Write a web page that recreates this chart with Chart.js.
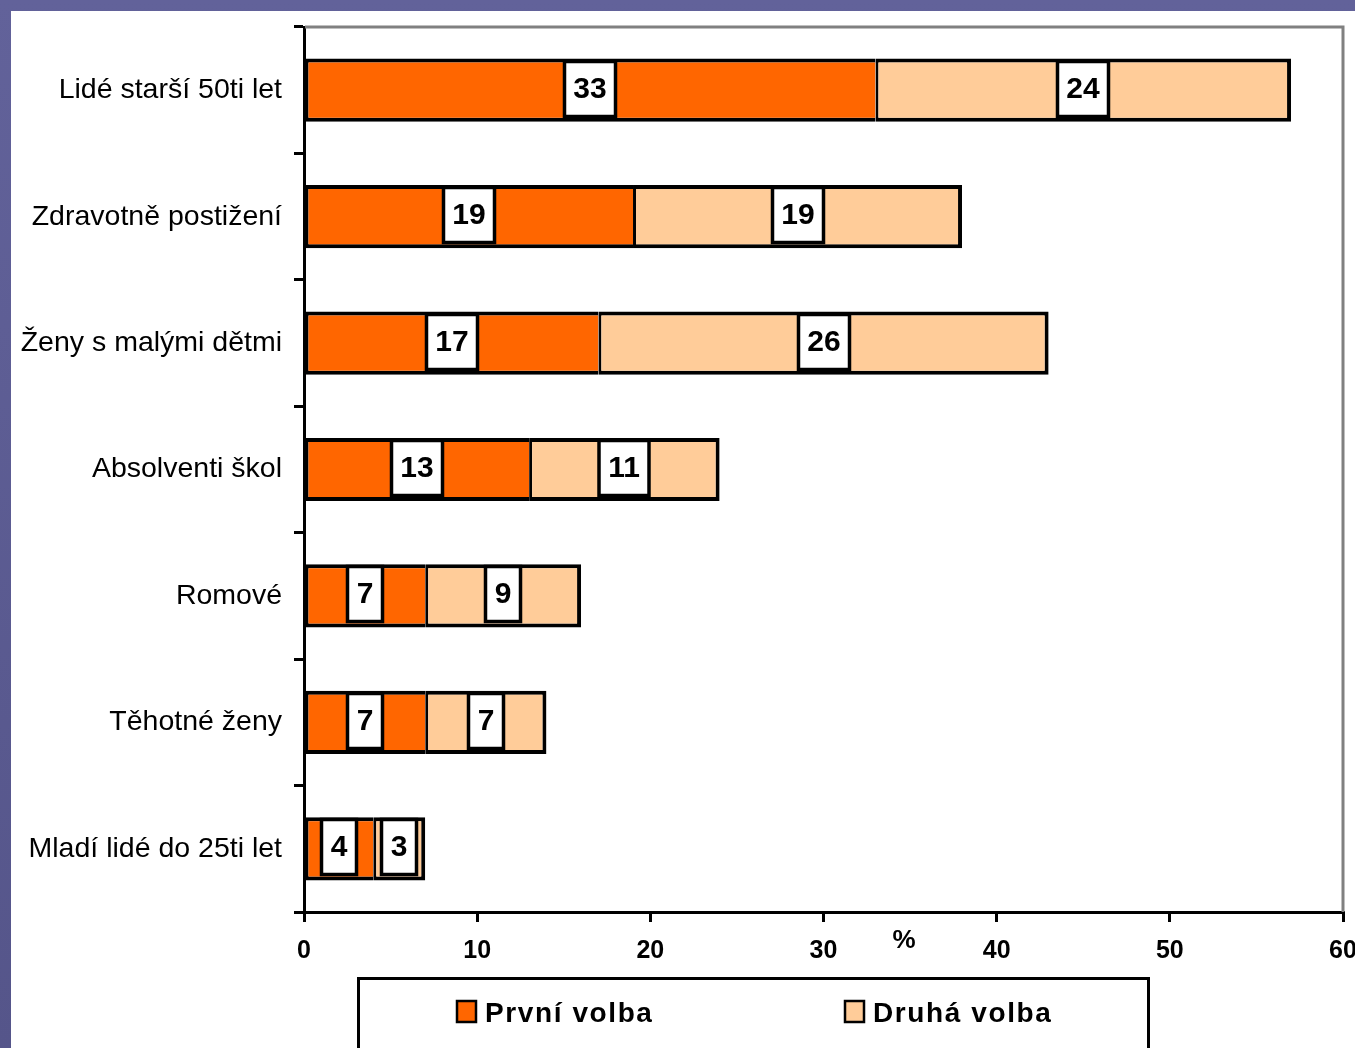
<!DOCTYPE html>
<html lang="cs">
<head>
<meta charset="utf-8">
<title>Cílové skupiny</title>
<script src="https://cdn.jsdelivr.net/npm/chart.js@4/dist/chart.umd.min.js"></script>
<style>
  html, body { margin: 0; padding: 0; background: #5c5c8e; }
  #wrap { position: absolute; left: 0; top: 0; width: 1355px; height: 1048px; }
</style>
</head>
<body>
<div id="wrap"><canvas id="c" width="1355" height="1048"></canvas></div>
<script>
// Target groups and the share (%) picking them as first / second choice
const categories = [
  'Lidé starší 50ti let',
  'Zdravotně postižení',
  'Ženy s malými dětmi',
  'Absolventi škol',
  'Romové',
  'Těhotné ženy',
  'Mladí lidé do 25ti let'
];
const firstChoice  = [33, 19, 17, 13, 7, 7, 4];
const secondChoice = [24, 19, 26, 11, 9, 7, 3];
const seriesNames  = ['První volba', 'Druhá volba'];
const xTicks       = [0, 10, 20, 30, 40, 50, 60];
const axisTitle    = '%';

const ORANGE = '#FF6600';
const PEACH  = '#FFCC99';
const LABEL_FONT = '"Liberation Sans", Arial, sans-serif';

// Slide background: purple frame with a white panel
const backdrop = {
  id: 'backdrop',
  beforeDraw(chart) {
    const { ctx, width, height } = chart;
    ctx.save();
    const g = ctx.createLinearGradient(0, 0, 0, height);
    g.addColorStop(0, '#62629a');
    g.addColorStop(1, '#55558a');
    ctx.fillStyle = g;
    ctx.fillRect(0, 0, width, height);
    ctx.fillStyle = '#ffffff';
    ctx.fillRect(11, 11, width - 11, height - 11);
    ctx.restore();
  }
};

// Gray frame on the top and right of the plot area, plus the axis title
const plotFrame = {
  id: 'plotFrame',
  afterDraw(chart) {
    const { ctx, chartArea: a } = chart;
    ctx.save();
    ctx.strokeStyle = '#808080';
    ctx.lineWidth = 3;
    ctx.beginPath();
    ctx.moveTo(a.left + 1, a.top);
    ctx.lineTo(a.right, a.top);
    ctx.lineTo(a.right, a.bottom);
    ctx.stroke();
    ctx.fillStyle = '#000';
    ctx.font = 'bold 26px ' + LABEL_FONT;
    ctx.textAlign = 'center';
    ctx.textBaseline = 'middle';
    ctx.fillText(axisTitle, 904, 941);
    ctx.restore();
  }
};

// White boxed value labels centred on each bar segment
const valueBoxes = {
  id: 'valueBoxes',
  afterDatasetsDraw(chart) {
    const { ctx } = chart;
    ctx.save();
    ctx.font = 'bold 30px ' + LABEL_FONT;
    ctx.textAlign = 'center';
    ctx.textBaseline = 'middle';
    chart.data.datasets.forEach((ds, di) => {
      chart.getDatasetMeta(di).data.forEach((bar, i) => {
        const txt = String(ds.data[i]);
        const tw = ctx.measureText(txt).width;
        const w = Math.round(tw + 18);
        const h = 55;
        const cx = Math.round((bar.x + bar.base) / 2);
        const cy = Math.round(bar.y - 1.5);
        const x0 = cx - w / 2, y0 = cy - h / 2;
        ctx.fillStyle = '#ffffff';
        ctx.fillRect(x0, y0, w, h);
        ctx.strokeStyle = '#000';
        ctx.lineWidth = 3.5;
        ctx.strokeRect(x0, y0, w, h);
        ctx.fillStyle = '#000';
        ctx.fillText(txt, cx, cy + 1);
      });
    });
    ctx.restore();
  }
};

// Boxed legend under the axis
const boxLegend = {
  id: 'boxLegend',
  afterDraw(chart) {
    const { ctx } = chart;
    ctx.save();
    ctx.strokeStyle = '#000';
    ctx.lineWidth = 3;
    ctx.strokeRect(358.5, 978.5, 790, 80);
    const spots = [457, 845];
    ctx.font = 'bold 28px ' + LABEL_FONT;
    ctx.textBaseline = 'middle';
    ctx.textAlign = 'left';
    chart.data.datasets.forEach((ds, i) => {
      const x = spots[i];
      ctx.fillStyle = ds.backgroundColor;
      ctx.fillRect(x, 1001, 19, 21);
      ctx.lineWidth = 2.5;
      ctx.strokeRect(x, 1001, 19, 21);
      ctx.fillStyle = '#000';
      ctx.letterSpacing = '1.6px';
      ctx.fillText(ds.label, x + 28, 1014);
    });
    ctx.restore();
  }
};

new Chart(document.getElementById('c'), {
  type: 'bar',
  data: {
    labels: categories,
    datasets: [
      {
        label: seriesNames[0],
        data: firstChoice,
        backgroundColor: ORANGE,
        borderColor: '#000',
        borderWidth: { top: 4, bottom: 4, left: 3, right: 0 },
        borderSkipped: false
      },
      {
        label: seriesNames[1],
        data: secondChoice,
        backgroundColor: PEACH,
        borderColor: '#000',
        borderWidth: { top: 4, bottom: 4, left: 3, right: 4 },
        borderSkipped: false
      }
    ]
  },
  options: {
    indexAxis: 'y',
    responsive: false,
    animation: false,
    devicePixelRatio: 1,
    barPercentage: 0.5,
    categoryPercentage: 1,
    layout: { padding: { top: 27, right: 12, left: 0, bottom: 0 } },
    plugins: {
      legend: { display: false },
      tooltip: { enabled: false }
    },
    scales: {
      x: {
        stacked: true,
        min: 0,
        max: 60,
        afterBuildTicks(scale) { scale.ticks = xTicks.map(v => ({ value: v })); },
        afterFit(scale) {
          scale.height = 136;
          scale.paddingLeft = 0;
          scale.paddingRight = 0;
        },
        grid: {
          drawOnChartArea: false,
          drawTicks: true,
          tickLength: 10,
          color: '#000',
          lineWidth: 3
        },
        border: { display: true, color: '#000', width: 3 },
        ticks: {
          color: '#000',
          padding: 14,
          maxRotation: 0,
          font: { family: LABEL_FONT, size: 25, weight: 'bold' }
        }
      },
      y: {
        stacked: true,
        afterFit(scale) {
          scale.width = 304;
          scale.paddingTop = 0;
          scale.paddingBottom = 0;
        },
        grid: {
          offset: true,
          drawOnChartArea: false,
          drawTicks: true,
          tickLength: 10,
          color: '#000',
          lineWidth: 3
        },
        border: { display: true, color: '#000', width: 3 },
        ticks: {
          color: '#000',
          padding: 12,
          font: { family: LABEL_FONT, size: 28.5 }
        }
      }
    }
  },
  plugins: [backdrop, plotFrame, valueBoxes, boxLegend]
});
</script>
</body>
</html>
